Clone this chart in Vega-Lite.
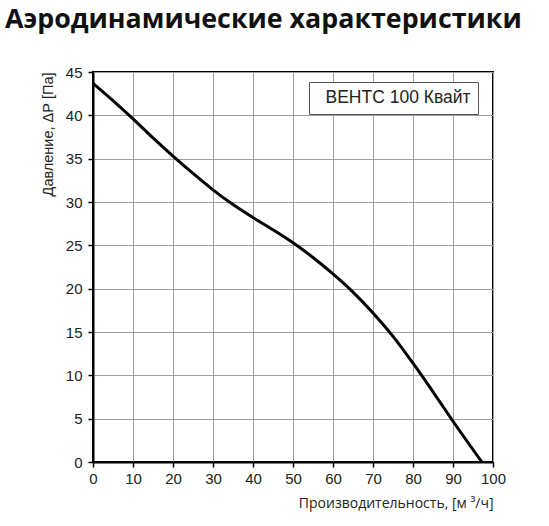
{
  "$schema": "https://vega.github.io/schema/vega-lite/v6.json",
  "autosize": "none",
  "width": 400,
  "height": 390,
  "padding": {"left": 93, "top": 72, "right": 56, "bottom": 64},
  "background": "white",
  "title": {
    "text": "Аэродинамические характеристики",
    "anchor": "start",
    "frame": "group",
    "font": "Open Sans",
    "fontWeight": "bold",
    "fontSize": 26.8,
    "color": "#111111",
    "dx": -88,
    "baseline": "alphabetic",
    "offset": 10
  },
  "config": {
    "view": {"stroke": "#000000", "strokeWidth": 2},
    "axis": {
      "labelFont": "Liberation Sans",
      "labelFontSize": 15,
      "labelColor": "#222222",
      "labelFlush": false,
      "titleFont": "Open Sans",
      "titleFontSize": 14,
      "titleFontWeight": "normal",
      "titleColor": "#222222",
      "gridColor": "#a0a0a0",
      "gridWidth": 1,
      "gridOpacity": 1,
      "domainColor": "#000000",
      "domainWidth": 2,
      "tickColor": "#000000",
      "tickWidth": 1.5,
      "tickSize": 5
    },
    "legend": {
      "labelFont": "Liberation Sans",
      "labelFontSize": 17.5,
      "labelColor": "#222222"
    }
  },
  "data": {
    "values": [
      {"q": 0, "p": 43.7, "s": "ВЕНТС 100 Квайт"},
      {"q": 5, "p": 41.7, "s": "ВЕНТС 100 Квайт"},
      {"q": 10, "p": 39.6, "s": "ВЕНТС 100 Квайт"},
      {"q": 15, "p": 37.4, "s": "ВЕНТС 100 Квайт"},
      {"q": 20, "p": 35.3, "s": "ВЕНТС 100 Квайт"},
      {"q": 25, "p": 33.3, "s": "ВЕНТС 100 Квайт"},
      {"q": 30, "p": 31.4, "s": "ВЕНТС 100 Квайт"},
      {"q": 35, "p": 29.7, "s": "ВЕНТС 100 Квайт"},
      {"q": 40, "p": 28.2, "s": "ВЕНТС 100 Квайт"},
      {"q": 45, "p": 26.8, "s": "ВЕНТС 100 Квайт"},
      {"q": 50, "p": 25.3, "s": "ВЕНТС 100 Квайт"},
      {"q": 55, "p": 23.6, "s": "ВЕНТС 100 Квайт"},
      {"q": 60, "p": 21.7, "s": "ВЕНТС 100 Квайт"},
      {"q": 65, "p": 19.6, "s": "ВЕНТС 100 Квайт"},
      {"q": 70, "p": 17.2, "s": "ВЕНТС 100 Квайт"},
      {"q": 75, "p": 14.5, "s": "ВЕНТС 100 Квайт"},
      {"q": 80, "p": 11.4, "s": "ВЕНТС 100 Квайт"},
      {"q": 85, "p": 8.1, "s": "ВЕНТС 100 Квайт"},
      {"q": 90, "p": 4.7, "s": "ВЕНТС 100 Квайт"},
      {"q": 97.2, "p": 0, "s": "ВЕНТС 100 Квайт"}
    ]
  },
  "mark": {"type": "line", "interpolate": "monotone", "strokeWidth": 3, "clip": true},
  "encoding": {
    "x": {
      "field": "q",
      "type": "quantitative",
      "scale": {"domain": [0, 100], "nice": false},
      "axis": {
        "values": [0, 10, 20, 30, 40, 50, 60, 70, 80, 90, 100],
        "title": "Производительность, [м ³/ч]",
        "titleAnchor": "end",
        "titlePadding": 10,
        "labelPadding": 4
      }
    },
    "y": {
      "field": "p",
      "type": "quantitative",
      "scale": {"domain": [0, 45], "nice": false},
      "axis": {
        "values": [0, 5, 10, 15, 20, 25, 30, 35, 40, 45],
        "title": "Давление, ΔР [Па]",
        "titleFont": "Liberation Sans",
        "titleFontSize": 14.5,
        "titleAngle": -90,
        "titleX": -45,
        "titleY": 0,
        "titleAlign": "right",
        "titleBaseline": "middle",
        "labelPadding": 6
      }
    },
    "color": {
      "field": "s",
      "type": "nominal",
      "scale": {"range": ["#000000"]},
      "legend": {
        "title": null,
        "orient": "none",
        "legendX": 216,
        "legendY": 10,
        "symbolSize": 0,
        "symbolOpacity": 0,
        "symbolStrokeWidth": 0,
        "labelOffset": -8,
        "strokeColor": "#555555",
        "fillColor": "white",
        "padding": 7
      }
    }
  }
}
